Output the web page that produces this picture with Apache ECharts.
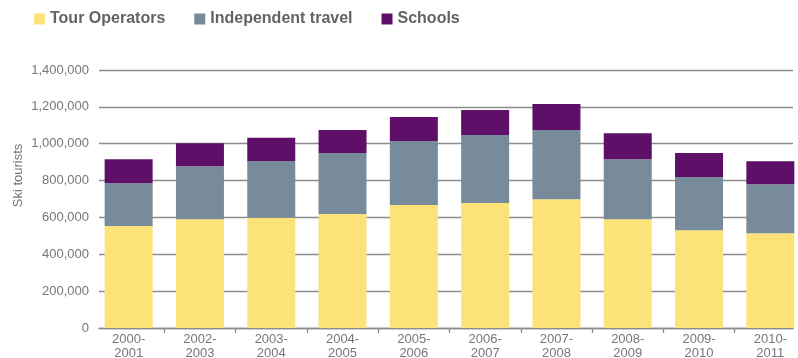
<!DOCTYPE html>
<html>
<head>
<meta charset="utf-8">
<script src="https://cdn.jsdelivr.net/npm/echarts@6/dist/echarts.min.js"></script>
<style>
  html, body { margin: 0; padding: 0; background: #fff; }
  #chart { width: 798px; height: 358px; }
</style>
</head>
<body>
<div id="chart"></div>
<script>
// Ski tourist numbers by season and travel type
const seasons = ['2000-\n2001', '2002-\n2003', '2003-\n2004', '2004-\n2005', '2005-\n2006',
                 '2006-\n2007', '2007-\n2008', '2008-\n2009', '2009-\n2010', '2010-\n2011'];
const tourOperators = [554000, 590000, 598000, 618000, 667000, 678000, 699000, 590000, 531000, 514000];
const independentTravel = [232000, 288000, 308000, 331000, 348000, 369000, 375000, 326000, 288000, 266000];
const schools = [130000, 125000, 126000, 125000, 130000, 136000, 141000, 141000, 130000, 125000];
const yMax = 1400000;
const yStep = 200000;

const chart = echarts.init(document.getElementById('chart'));
const labelFont = 'Liberation Sans, Arial, Helvetica, sans-serif';
const fmt = v => v.toLocaleString('en-US');

chart.setOption({
  animation: false,
  legend: {
    left: 29,
    top: 6,
    itemWidth: 11,
    itemHeight: 11,
    itemGap: 29,
    icon: 'rect',
    textStyle: { fontFamily: labelFont, fontSize: 16, fontWeight: 'bold', color: '#636363' },
    data: ['Tour Operators', 'Independent travel', 'Schools']
  },
  grid: [
    // grid lines, value labels and baseline
    { left: 99, right: 5, top: 70, bottom: 30, outerBoundsMode: 'none', containLabel: false },
    // bars and season labels
    { left: 93, width: 713, top: 70, bottom: 30, outerBoundsMode: 'none', containLabel: false }
  ],
  xAxis: [
    {
      gridIndex: 0, type: 'category', data: seasons,
      axisLine: { show: true, lineStyle: { color: '#8c8c8c', width: 1.3 } },
      axisTick: { show: false }, axisLabel: { show: false }
    },
    {
      gridIndex: 1, type: 'category', data: seasons,
      axisLine: { show: false },
      axisTick: { show: true, length: 5, interval: i => i > 0, lineStyle: { color: '#8c8c8c', width: 1.3 } },
      axisLabel: { fontFamily: labelFont, fontSize: 13, color: '#777', margin: 4, lineHeight: 14.5, interval: 0 }
    }
  ],
  yAxis: [
    {
      gridIndex: 0, type: 'value', min: 0, max: yMax, interval: yStep,
      name: 'Ski tourists', nameLocation: 'middle', nameGap: 74, nameRotate: 90,
      nameMoveOverlap: false,
      nameTextStyle: { fontFamily: labelFont, fontSize: 13, color: '#777', padding: [0, 0, 0, 47] },
      axisLine: { show: false }, axisTick: { show: false },
      axisLabel: { fontFamily: labelFont, fontSize: 13, color: '#777', margin: 10, formatter: fmt },
      splitLine: { lineStyle: { color: '#8c8c8c', width: 1.3 } }
    },
    {
      gridIndex: 1, type: 'value', min: 0, max: yMax, interval: yStep, show: false,
      splitLine: { show: false }
    }
  ],
  series: [
    { name: 'Tour Operators', type: 'bar', stack: 'all', xAxisIndex: 1, yAxisIndex: 1,
      barWidth: 48, itemStyle: { color: '#FDE27A' }, data: tourOperators },
    { name: 'Independent travel', type: 'bar', stack: 'all', xAxisIndex: 1, yAxisIndex: 1,
      barWidth: 48, itemStyle: { color: '#778B9A' }, data: independentTravel },
    { name: 'Schools', type: 'bar', stack: 'all', xAxisIndex: 1, yAxisIndex: 1,
      barWidth: 48, itemStyle: { color: '#5E1068' }, data: schools }
  ]
});
</script>
</body>
</html>
